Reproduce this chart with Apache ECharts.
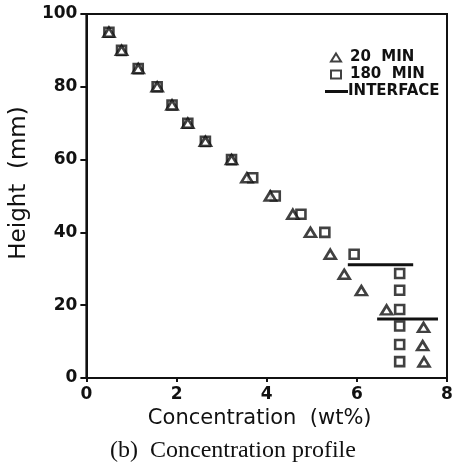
<!DOCTYPE html>
<html>
<head>
<meta charset="utf-8">
<script src="https://cdn.jsdelivr.net/npm/echarts@6/dist/echarts.min.js"></script>
<style>
html,body{margin:0;padding:0;background:#fff;}
#c{width:461px;height:470px;}
</style>
</head>
<body>
<div id="c"></div>
<script>
// Data
const heights20 = [95, 90, 85, 80, 75, 70, 65, 60, 55, 50, 45, 40, 34, 28.5, 24, 18.7, 13.9, 8.9, 4.4];
const conc20    = [0.5, 0.78, 1.15, 1.57, 1.9, 2.25, 2.64, 3.22, 3.56, 4.08, 4.58, 4.97, 5.41, 5.72, 6.1, 6.66, 7.48, 7.46, 7.49];
const heights180 = [95, 90, 85, 80, 75, 70, 65, 60, 55, 50, 45, 40, 34, 28.7, 24.1, 18.8, 14.3, 9.2, 4.5];
const conc180    = [0.5, 0.78, 1.15, 1.57, 1.9, 2.25, 2.64, 3.22, 3.69, 4.19, 4.76, 5.29, 5.94, 6.95, 6.95, 6.95, 6.95, 6.95, 6.95];
const interfaceUpper = [[5.8, 31.1], [7.25, 31.1]];
const interfaceLower = [[6.45, 16.2], [7.8, 16.2]];
const xTicks = [0, 2, 4, 6, 8];
const yTicks = [0, 20, 40, 60, 80, 100];
const names = ['20  MIN', '180  MIN', 'INTERFACE'];

const pts20 = conc20.map((x, i) => [x, heights20[i]]);
const pts180 = conc180.map((x, i) => [x, heights180[i]]);

const chart = echarts.init(document.getElementById('c'), null, {renderer: 'canvas'});
const axisFont = {fontFamily: 'DejaVu Sans', fontWeight: 'bold', fontSize: 17, color: '#111'};
const legendText = {fontFamily: 'DejaVu Sans', fontWeight: 'bold', fontSize: 15, color: '#111', lineHeight: 15};
chart.setOption({
  animation: false,
  backgroundColor: '#fff',
  grid: {left: 84, right: 14, top: 14, bottom: 92, show: true, borderColor: '#111', borderWidth: 2, backgroundColor: 'transparent'},
  legend: [{
    data: [
      {name: names[0], icon: 'triangle'},
      {name: names[1], icon: 'rect'}
    ],
    orient: 'vertical',
    left: 325,
    top: 45,
    itemWidth: 10,
    itemHeight: 8,
    itemGap: 2,
    itemStyle: {color: '#fff', borderColor: '#111', borderWidth: 2},
    textStyle: Object.assign({padding: [0, 0, 0, 4]}, legendText)
  }, {
    data: [{name: names[2], icon: 'rect'}],
    orient: 'vertical',
    left: 320,
    top: 79,
    itemWidth: 23,
    itemHeight: 3,
    itemStyle: {color: '#111', borderWidth: 0},
    textStyle: Object.assign({padding: [0, 0, 0, -5]}, legendText)
  }],
  xAxis: {
    type: 'value', min: xTicks[0], max: xTicks[xTicks.length - 1], interval: 2,
    name: 'Concentration  (wt%)', nameLocation: 'middle', nameGap: 28,
    nameTextStyle: {fontFamily: 'DejaVu Sans', fontSize: 21, color: '#111', padding: [0, 14, 0, 0]},
    axisLine: {lineStyle: {color: '#111', width: 2}},
    axisTick: {show: true, length: 4, lineStyle: {color: '#111', width: 2}},
    axisLabel: Object.assign({margin: 8}, axisFont),
    splitLine: {show: false}
  },
  yAxis: {
    type: 'value', min: yTicks[0], max: yTicks[yTicks.length - 1], interval: 20,
    name: 'Height  (mm)', nameLocation: 'middle', nameGap: 35,
    nameTextStyle: {fontFamily: 'DejaVu Sans', fontSize: 23, color: '#111', padding: [0, 0, 0, 26]},
    axisLine: {lineStyle: {color: '#111', width: 2}},
    axisTick: {show: true, length: 6, lineStyle: {color: '#111', width: 2}},
    axisLabel: Object.assign({margin: 9}, axisFont),
    splitLine: {show: false}
  },
  series: [
    {
      name: names[1], type: 'scatter', data: pts180, symbol: 'rect', symbolSize: 9,
      itemStyle: {color: '#fff', borderColor: '#111', borderWidth: 2.6}, z: 3
    },
    {
      name: names[0], type: 'scatter', data: pts20, symbol: 'triangle', symbolSize: [11, 9],
      itemStyle: {color: '#fff', borderColor: '#111', borderWidth: 2.6}, z: 4
    },
    {
      name: names[2], type: 'line', data: interfaceUpper, symbol: 'none',
      lineStyle: {color: '#111', width: 3}, itemStyle: {color: '#111'}
    },
    {
      name: names[2], type: 'line', data: interfaceLower, symbol: 'none',
      lineStyle: {color: '#111', width: 3}, itemStyle: {color: '#111'}
    }
  ],
  graphic: [{
    type: 'text', left: 110, top: 439,
    style: {text: '(b)  Concentration profile', font: '24px "Liberation Serif"', fill: '#111'}
  }]
});
</script>
</body>
</html>
